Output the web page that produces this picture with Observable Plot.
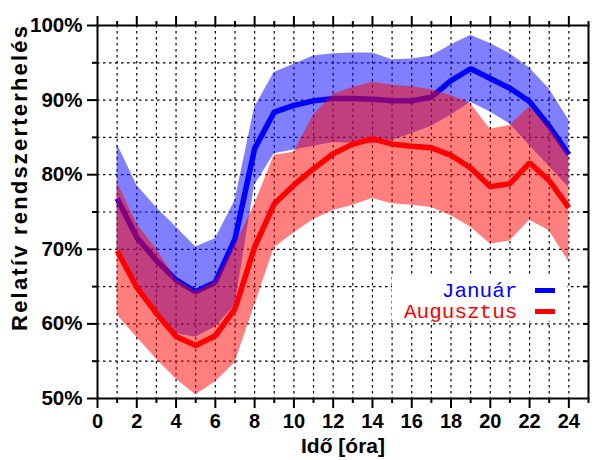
<!DOCTYPE html>
<html><head><meta charset="utf-8">
<script src="https://cdn.jsdelivr.net/npm/d3@7"></script>
<script src="https://cdn.jsdelivr.net/npm/@observablehq/plot@0.6"></script>
<style>body{margin:0;background:#fff}</style>
</head><body><div id="chart"></div>
<script>
// ---- data ----
const hours   = [1,2,3,4,5,6,7,8,9,10,11,12,13,14,15,16,17,18,19,20,21,22,23,24];
const janMean = [76.8,71.6,68.5,65.9,64.3,65.6,71.4,83.5,88.4,89.3,89.9,90.2,90.2,90.1,89.9,89.9,90.4,92.6,94.2,92.9,91.6,89.8,86.5,82.7];
const janHigh = [84.1,78.6,75.6,73.0,70.3,71.4,76.5,89.0,93.7,94.8,95.9,96.2,96.3,96.3,95.4,95.5,95.9,97.4,98.7,97.6,96.2,94.3,91.5,87.3];
const janLow  = [70.2,65.4,61.8,58.7,58.2,59.6,62.5,78.6,82.8,83.3,83.8,84.3,84.2,84.1,84.6,85.5,86.5,88.0,89.7,88.4,86.8,83.9,81.1,78.3];
const augMean = [69.8,64.9,61.4,58.3,57.1,58.4,62.0,70.3,76.1,78.6,80.8,82.8,84.1,84.8,84.1,83.8,83.6,82.6,80.9,78.4,78.8,81.6,79.2,75.6];
const augHigh = [79.0,73.4,70.0,66.0,64.3,65.6,70.5,76.0,82.6,83.0,88.0,90.8,91.7,92.4,92.0,91.8,91.4,90.6,89.5,86.1,86.6,89.1,86.3,82.5];
const augLow  = [61.2,58.2,55.3,52.6,50.5,52.2,54.8,62.5,70.2,72.2,74.0,75.2,75.9,76.8,76.1,75.9,75.6,74.5,73.0,70.7,71.1,73.9,72.5,68.3];

const xTicksMajor = [0,2,4,6,8,10,12,14,16,18,20,22,24];
const xTicksMinor = [1,3,5,7,9,11,13,15,17,19,21,23,25];
const yTicksMajor = [50,60,70,80,90,100];
const yTicksMinor = [55,65,75,85,95];
const gridHours   = [1,2,3,4,5,6,7,8,9,10,11,12,13,14,15,16,17,18,19,20,21,22,23,24];
const gridLoads   = [55,60,65,70,75,80,85,90,95];
const seriesNames  = ["Január","Augusztus"];
const seriesColors = ["#0000ff","#ff0000"];
const xLabel = "Idő [óra]";
const yLabel = "Relatív rendszerterhelés";

const jan = hours.map((h,i)=>({h, mean: janMean[i], lo: janLow[i], hi: janHigh[i]}));
const aug = hours.map((h,i)=>({h, mean: augMean[i], lo: augLow[i], hi: augHigh[i]}));
const legend = seriesNames.map((name,i)=>({name, color: seriesColors[i], row: i}));

const bold = {fontWeight: "bold"};
const dots = {stroke: "black", strokeOpacity: 1, strokeWidth: 1.2, strokeDasharray: "2.5,3.5"};

const chart = Plot.plot({
  width: 596, height: 460,
  marginLeft: 97, marginRight: 8, marginTop: 25, marginBottom: 62,
  x: {domain: [0, 25]},
  y: {domain: [50, 100]},
  color: {type: "identity"},
  style: {fontFamily: "'Liberation Sans', Arial, Helvetica, sans-serif", background: "white", color: "black"},
  marks: [
    Plot.gridX(gridHours, dots),
    Plot.gridY(gridLoads, dots),
    Plot.rect([0], {x1: 15.02, x2: 23.93, y1: 60.35, y2: 66.5, fill: "white"}),
    Plot.areaY(jan, {x: "h", y1: "lo", y2: "hi", fill: seriesColors[0], fillOpacity: 0.5}),
    Plot.lineY(jan, {x: "h", y: "mean", stroke: seriesColors[0], strokeWidth: 5.5, strokeLinejoin: "miter", strokeLinecap: "butt"}),
    Plot.areaY(aug, {x: "h", y1: "lo", y2: "hi", fill: seriesColors[1], fillOpacity: 0.5}),
    Plot.lineY(aug, {x: "h", y: "mean", stroke: seriesColors[1], strokeWidth: 5.5, strokeLinejoin: "miter", strokeLinecap: "butt"}),
    // axes
    Plot.axisX(xTicksMajor, {anchor: "bottom", tickSize: 10, tickPadding: 5, strokeWidth: 2, fontSize: 20, ...bold, label: null}),
    Plot.axisX(xTicksMinor, {anchor: "bottom", tickSize: 5, strokeWidth: 2, tickFormat: () => "", label: null}),
    Plot.axisX(xTicksMajor, {anchor: "top", tickSize: 10, strokeWidth: 2, tickFormat: () => "", label: null}),
    Plot.axisX(xTicksMinor, {anchor: "top", tickSize: 5, strokeWidth: 2, tickFormat: () => "", label: null}),
    Plot.axisY(yTicksMajor, {anchor: "left", tickSize: 10, tickPadding: 5, strokeWidth: 2, fontSize: 20.5, ...bold, tickFormat: d => d + "%", label: null}),
    Plot.axisY(yTicksMinor, {anchor: "left", tickSize: 5, strokeWidth: 2, tickFormat: () => "", label: null}),
    Plot.axisY(gridLoads, {anchor: "right", tickSize: -6, strokeWidth: 2, tickFormat: () => "", label: null}),
    Plot.frame({stroke: "black", strokeWidth: 2}),
    // axis titles
    Plot.text([xLabel], {text: d => d, frameAnchor: "bottom", dy: 54, fontSize: 21, ...bold}),
    Plot.text([yLabel], {text: d => d, x: -3.95, y: 79.5, rotate: -90, fontSize: 22, ...bold}),
    // legend
    Plot.text(legend, {x: 21.38, y: d => d.row === 0 ? 64.5 : 61.7, text: "name", fill: d => d.color,
      textAnchor: "end", fontSize: 21, fontFamily: "'Liberation Mono', 'Courier New', monospace"}),
    Plot.ruleY(legend, {y: d => d.row === 0 ? 64.48 : 61.66, x1: 22.3, x2: 23.32, stroke: d => d.color, strokeWidth: 5})
  ]
});
document.getElementById("chart").append(chart);
chart.querySelectorAll("text").forEach(t => {
  if (t.textContent === yLabel) { t.setAttribute("textLength", 305); t.setAttribute("lengthAdjust", "spacing"); }
});
</script>
</body></html>
